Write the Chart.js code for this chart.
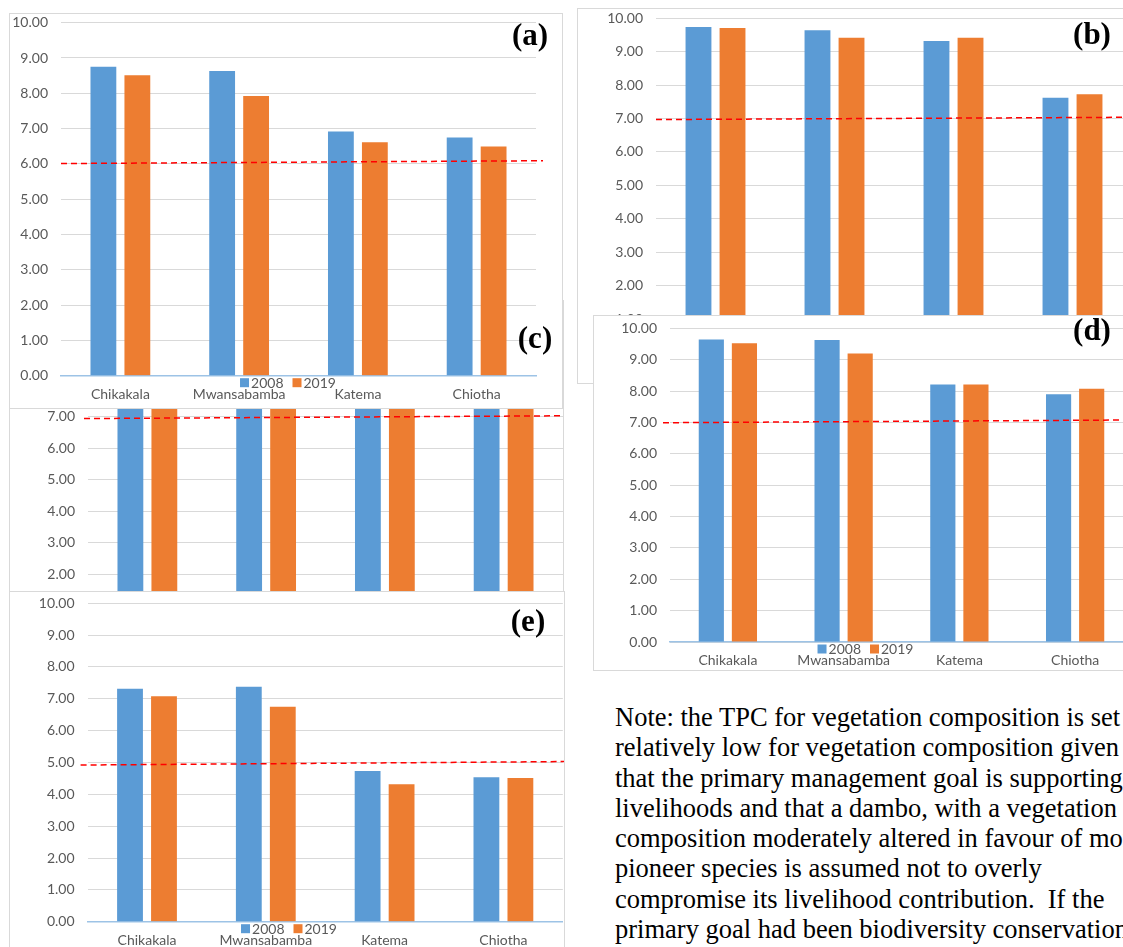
<!DOCTYPE html>
<html><head><meta charset="utf-8">
<script src="https://cdn.jsdelivr.net/npm/chart.js@4.4.0/dist/chart.umd.min.js"></script>
<style>
html,body{margin:0;padding:0;background:#fff;}
body{width:1123px;height:947px;overflow:hidden;position:relative;}
.frame{position:absolute;box-sizing:border-box;border:1px solid #d9d9d9;background:#fff;overflow:hidden;}
.frame canvas{display:block;position:absolute;left:0;}
.plabel{position:absolute;font-family:"Liberation Serif","Times New Roman",serif;font-weight:bold;font-size:31px;line-height:1;transform:translate(-50%,-50%);color:#000;white-space:nowrap;z-index:20;}
.note{position:absolute;left:615px;top:702px;font-family:"Liberation Serif","Times New Roman",serif;font-size:26.5px;line-height:30.3px;white-space:nowrap;color:#000;z-index:20;}
</style></head><body>
<div class="note">Note: the TPC for vegetation composition is set<br>relatively low for vegetation composition given<br>that the primary management goal is supporting<br>livelihoods and that a dambo, with a vegetation<br>composition moderately altered in favour of more<br>pioneer species is assumed not to overly<br>compromise its livelihood contribution.&nbsp; If the<br>primary goal had been biodiversity conservation</div>
<script>
// ---- data ----
const categories = ['Chikakala', 'Mwansabamba', 'Katema', 'Chiotha'];
const seriesLabels = ['2008', '2019'];
const yMin = 0, yMax = 10, yStep = 1;

const a2008 = [8.75, 8.63, 6.92, 6.75];
const a2019 = [8.51, 7.92, 6.61, 6.49];
const tpcA = [6.01, 6.09];

const b2008 = [9.74, 9.64, 9.32, 7.62];
const b2019 = [9.71, 9.42, 9.42, 7.73];
const tpcB = [6.97, 7.04];

const c2008 = [8.90, 8.70, 7.28, 7.30];
const c2019 = [8.70, 8.40, 7.28, 7.60];
const tpcC = [6.94, 7.03];

const d2008 = [9.64, 9.63, 8.21, 7.90];
const d2019 = [9.52, 9.20, 8.21, 8.07];
const tpcD = [6.99, 7.08];

const e2008 = [7.32, 7.38, 4.73, 4.54];
const e2019 = [7.08, 6.75, 4.32, 4.51];
const tpcE = [4.92, 5.03];

const panelNames = ['(a)', '(b)', '(c)', '(d)', '(e)'];

// ---- styling / layout ----
const COLORS = ['#5b9bd5', '#ed7d31'];
const TXT = '#595959';
const FONT = 'Lato, "Open Sans", sans-serif';
const K = 20; // canvas shifted up inside its frame

const overlay = {
  id: 'overlay',
  afterDatasetsDraw(chart, args, o) {
    const ctx = chart.ctx, ca = chart.chartArea, y = chart.scales.y;
    ctx.save();
    ctx.strokeStyle = '#ff0000';
    ctx.lineWidth = 1.5;
    ctx.setLineDash([6, 4]);
    ctx.beginPath();
    ctx.moveTo(ca.left + o.ext[0], y.getPixelForValue(o.tpc[0]));
    ctx.lineTo(ca.right + o.ext[1], y.getPixelForValue(o.tpc[1]));
    ctx.stroke();
    ctx.restore();
  },
  afterDraw(chart, args, o) {
    const ctx = chart.ctx, ca = chart.chartArea;
    ctx.save();
    ctx.font = '14px ' + FONT;
    ctx.textBaseline = 'middle';
    const sq = 9, gap = 2, itemGap = 9;
    const ds = chart.data.datasets;
    let total = 0;
    ds.forEach((d, i) => { total += sq + gap + ctx.measureText(d.label).width + (i ? itemGap : 0); });
    let x = chart.width / 2 + 2 - total / 2;
    const yc = ca.bottom + 7;
    ds.forEach((d, i) => {
      if (i) x += itemGap;
      ctx.fillStyle = d.backgroundColor;
      ctx.fillRect(x, yc - sq / 2, sq, sq);
      x += sq + gap;
      ctx.fillStyle = TXT;
      ctx.fillText(d.label, x, yc + 0.5);
      x += ctx.measureText(d.label).width;
    });
    ctx.restore();
  }
};

function makePanel(frame, plot, s1, s2, tpc, ext, z) {
  const [fx, fy, fw, fh] = frame;
  const [pl, pt, pr, pb] = plot;
  const div = document.createElement('div');
  div.className = 'frame';
  Object.assign(div.style, { left: fx + 'px', top: fy + 'px', width: fw + 'px', height: fh + 'px', zIndex: z });
  const cv = document.createElement('canvas');
  const ox = fx + 1, oy = fy + 1 - K, cw = fw - 2, ch = fh - 2 + K;
  cv.width = cw; cv.height = ch;
  cv.style.top = (-K) + 'px';
  div.appendChild(cv);
  document.body.appendChild(div);
  const want = { left: pl - ox, top: pt - oy, right: pr - ox, bottom: pb - oy };
  const dims = { yW: want.left, xH: ch - want.bottom };
  const chart = new Chart(cv, {
    type: 'bar',
    data: {
      labels: categories,
      datasets: [
        { label: seriesLabels[0], data: s1, backgroundColor: COLORS[0], categoryPercentage: 0.572, barPercentage: 0.76 },
        { label: seriesLabels[1], data: s2, backgroundColor: COLORS[1], categoryPercentage: 0.572, barPercentage: 0.76 }
      ]
    },
    options: {
      responsive: false, animation: false, devicePixelRatio: 1,
      layout: { padding: { left: 0, top: want.top, right: cw - want.right, bottom: 0 } },
      plugins: { legend: { display: false }, tooltip: { enabled: false }, overlay: { tpc: tpc, ext: ext } },
      scales: {
        x: {
          grid: { display: false, drawTicks: false },
          border: { display: true, color: '#9dc3e6', width: 1.5 },
          ticks: { color: TXT, font: { family: FONT, size: 14 }, padding: 10, maxRotation: 0, autoSkip: false },
          afterFit: s => { s.height = dims.xH; }
        },
        y: {
          min: yMin, max: yMax,
          grid: { color: '#d9d9d9', lineWidth: 1, drawTicks: false },
          border: { display: false },
          ticks: { stepSize: yStep, color: TXT, font: { family: FONT, size: 14 }, padding: 13, callback: v => Number(v).toFixed(2) },
          afterFit: s => { s.width = dims.yW; }
        }
      }
    },
    plugins: [overlay]
  });
  // fine-tune the layout so the plot area lands where the reference has it
  for (let it = 0; it < 4; it++) {
    const ca = chart.chartArea;
    const dT = want.top - ca.top, dB = want.bottom - ca.bottom, dL = want.left - ca.left, dR = want.right - ca.right;
    if (Math.abs(dT) < 0.3 && Math.abs(dB) < 0.3 && Math.abs(dL) < 0.3 && Math.abs(dR) < 0.3) break;
    const p = chart.options.layout.padding;
    p.top = Math.max(0, p.top + dT);
    p.right = Math.max(0, p.right - dR);
    dims.xH = Math.max(0, dims.xH - dB);
    dims.yW = Math.max(0, dims.yW + dL);
    chart.update('none');
  }
}

makePanel([9, 300, 555, 360], [88, 322, 563, 642], c2008, c2019, tpcC, [-4, 10], 1);
makePanel([9, 13, 554, 396], [61, 22.7, 536, 375.7], a2008, a2019, tpcA, [0, 7], 2);
makePanel([9, 591, 556, 380], [87.6, 603.3, 562.8, 921.7], e2008, e2019, tpcE, [-7, 4], 3);
makePanel([577, 8, 557, 376], [656, 18.3, 1132, 352.5], b2008, b2019, tpcB, [0, 10], 4);
makePanel([593, 315, 541, 356], [670, 328.3, 1133, 642], d2008, d2019, tpcD, [-7, 10], 5);

const labelPos = [[530, 34], [1092, 32.5], [535, 336.5], [1092, 328.5], [528, 620]];
panelNames.forEach((t, i) => {
  const el = document.createElement('div');
  el.className = 'plabel';
  el.textContent = t;
  el.style.left = labelPos[i][0] + 'px';
  el.style.top = labelPos[i][1] + 'px';
  document.body.appendChild(el);
});
</script>
</body></html>
